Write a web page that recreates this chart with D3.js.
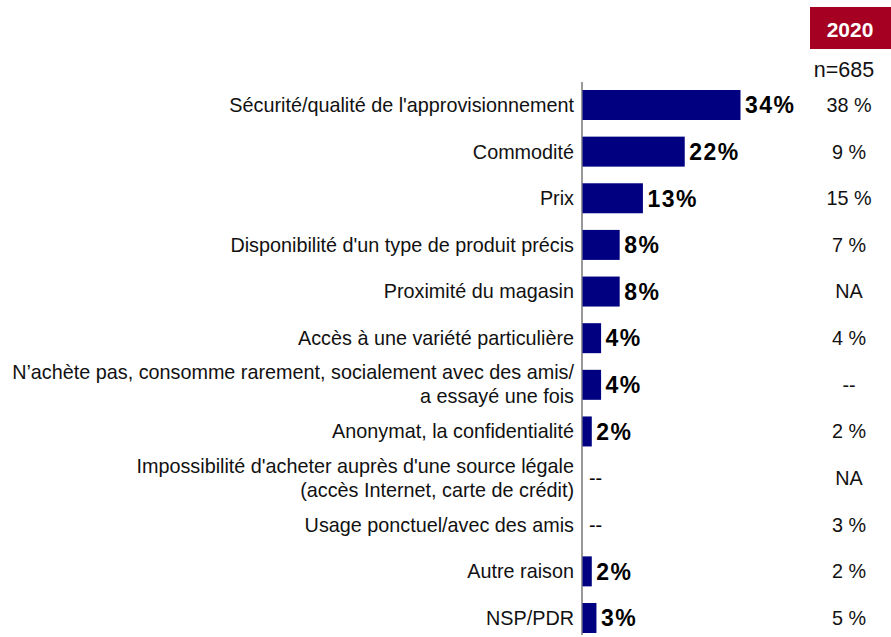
<!DOCTYPE html>
<html>
<head>
<meta charset="utf-8">
<script src="https://cdn.jsdelivr.net/npm/d3@7"></script>
<style>
  body { margin: 0; background: #fff; }
  svg { font-family: "Liberation Sans", Arial, sans-serif; }
</style>
</head>
<body>
<script>
const labels = [
  ["Sécurité/qualité de l'approvisionnement"],
  ["Commodité"],
  ["Prix"],
  ["Disponibilité d'un type de produit précis"],
  ["Proximité du magasin"],
  ["Accès à une variété particulière"],
  ["N’achète pas, consomme rarement, socialement avec des amis/", "a essayé une fois"],
  ["Anonymat, la confidentialité"],
  ["Impossibilité d'acheter auprès d'une source légale", "(accès Internet, carte de crédit)"],
  ["Usage ponctuel/avec des amis"],
  ["Autre raison"],
  ["NSP/PDR"]
];
const values = [34, 22, 13, 8, 8, 4, 4, 2, null, null, 2, 3];
const prev2020 = ["38 %", "9 %", "15 %", "7 %", "NA", "4 %", "--", "2 %", "NA", "3 %", "2 %", "5 %"];
const yearLabel = "2020";
const nLabel = "n=685";

const width = 891, height = 637;
const x0 = 582;

const svg = d3.select("body").append("svg")
  .attr("width", width)
  .attr("height", height);

const x = d3.scaleLinear().domain([0, 34]).range([x0, 740]);
const y = d3.scaleBand()
  .domain(d3.range(labels.length))
  .range([90, 633])
  .paddingInner(0.357)
  .paddingOuter(0);

// axis line
svg.append("line")
  .attr("x1", x0).attr("x2", x0)
  .attr("y1", 82).attr("y2", 635)
  .attr("stroke", "#333").attr("stroke-width", 1);

const row = svg.selectAll("g.row")
  .data(labels.map((l, i) => ({ l, v: values[i], p: prev2020[i], i })))
  .join("g")
  .attr("class", "row");

row.filter(d => d.v != null).append("rect")
  .attr("x", x0 + 0.5)
  .attr("y", d => y(d.i))
  .attr("width", d => x(d.v) - x0)
  .attr("height", y.bandwidth())
  .attr("fill", "#000080");

const cy = d => y(d.i) + y.bandwidth() / 2;

row.append("text")
  .attr("x", 574)
  .attr("y", cy)
  .attr("text-anchor", "end")
  .attr("font-size", 19.8)
  .attr("fill", "#111")
  .selectAll("tspan")
  .data(d => d.l.map((t, k) => ({ t, k, n: d.l.length })))
  .join("tspan")
  .attr("x", 574)
  .attr("dy", d => d.n === 1 ? "0.35em" : (d.k === 0 ? "-0.27em" : "1.2em"))
  .text(d => d.t);

row.append("text")
  .attr("x", d => d.v != null ? x(d.v) + 5 : x0 + 7)
  .attr("y", cy)
  .attr("dy", "0.36em")
  .attr("font-size", d => d.v != null ? 23 : 19.8)
  .attr("font-weight", d => d.v != null ? "bold" : "normal")
  .attr("letter-spacing", d => d.v != null ? 1.5 : 0)
  .attr("fill", "#000")
  .text(d => d.v != null ? d.v + "%" : "--");

row.append("text")
  .attr("x", 849)
  .attr("y", cy)
  .attr("dy", "0.35em")
  .attr("text-anchor", "middle")
  .attr("font-size", 19.8)
  .attr("fill", "#111")
  .text(d => d.p);

// year header
svg.append("rect")
  .attr("x", 810).attr("y", 7)
  .attr("width", 81).attr("height", 42)
  .attr("fill", "#A50021");
svg.append("text")
  .attr("x", 850).attr("y", 29).attr("dy", "0.36em")
  .attr("text-anchor", "middle")
  .attr("font-size", 21).attr("font-weight", "bold")
  .attr("fill", "#fff")
  .text(yearLabel);
svg.append("text")
  .attr("x", 844).attr("y", 69).attr("dy", "0.35em")
  .attr("text-anchor", "middle")
  .attr("font-size", 21.5)
  .attr("fill", "#111")
  .text(nLabel);
</script>
</body>
</html>
